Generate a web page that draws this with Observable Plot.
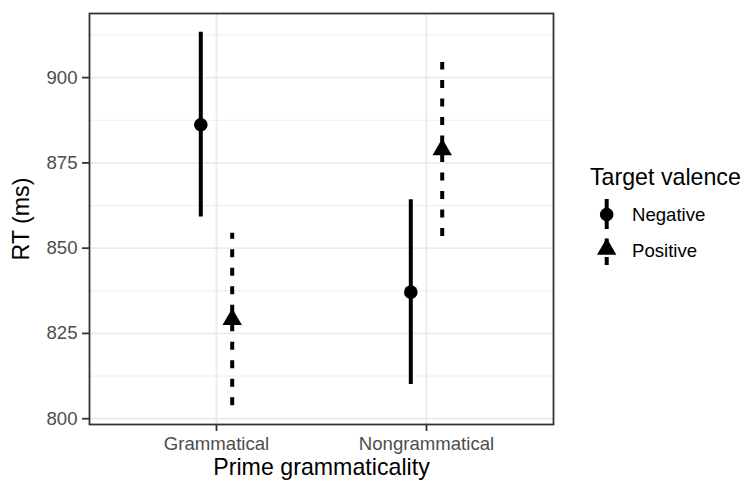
<!DOCTYPE html>
<html><head><meta charset="utf-8">
<script src="https://cdn.jsdelivr.net/npm/d3@7"></script>
<script src="https://cdn.jsdelivr.net/npm/@observablehq/plot@0.6"></script>
<style>
body{margin:0;background:#fff}
#wrap{position:relative;width:748px;height:482px;font-family:"Liberation Sans",Arial,Helvetica,sans-serif}
</style>
</head><body><div id="wrap"></div>
<script>
const categories = ["Grammatical", "Nongrammatical"];
const valences = ["Negative", "Positive"];
const meanNegative = [886.2, 837.1];
const ciNegative = [27.1, 27.1];
const meanPositive = [829.1, 878.9];
const ciPositive = [25.3, 25.5];
const yTicks = [800, 825, 850, 875, 900];
const yMinor = [812.5, 837.5, 862.5, 887.5, 912.5];
const xLabel = "Prime grammaticality";
const yLabel = "RT (ms)";
const legendTitle = "Target valence";

const rows = [];
categories.forEach((c, i) => {
  rows.push({prime: c, valence: valences[0], rt: meanNegative[i], lo: meanNegative[i] - ciNegative[i], hi: meanNegative[i] + ciNegative[i]});
  rows.push({prime: c, valence: valences[1], rt: meanPositive[i], lo: meanPositive[i] - ciPositive[i], hi: meanPositive[i] + ciPositive[i]});
});
const neg = rows.filter(d => d.valence === valences[0]);
const pos = rows.filter(d => d.valence === valences[1]);
const FONT = '"Liberation Sans", Arial, Helvetica, sans-serif';
const DASH = "8,10.5";

const plot = Plot.plot({
  width: 748, height: 482,
  marginLeft: 89, marginRight: 195, marginTop: 13, marginBottom: 58,
  style: {fontFamily: FONT, fontSize: "18.6px", background: "#fff", color: "#000", overflow: "visible"},
  x: {type: "point", domain: categories, padding: 0.6, label: null},
  y: {domain: [798.3, 918.8], label: null},
  marks: [
    Plot.gridY(yMinor, {stroke: "#ebebeb", strokeOpacity: 1, strokeWidth: 0.9}),
    Plot.gridY(yTicks, {stroke: "#ebebeb", strokeOpacity: 1, strokeWidth: 1.8}),
    Plot.gridX(categories, {stroke: "#ebebeb", strokeOpacity: 1, strokeWidth: 1.8}),
    Plot.ruleX(neg, {x: "prime", y1: "lo", y2: "hi", dx: -15.7, stroke: "#000", strokeWidth: 4}),
    Plot.ruleX(pos, {x: "prime", y1: "lo", y2: "hi", dx: 15.7, stroke: "#000", strokeWidth: 4, strokeDasharray: DASH}),
    Plot.dot(neg, {x: "prime", y: "rt", dx: -15.7, symbol: "circle", r: 6.8, fill: "#000", stroke: "none"}),
    Plot.dot(pos, {x: "prime", y: "rt", dx: 15.7, symbol: "triangle", r: 7.2, fill: "#000", stroke: "none"}),
    Plot.axisY(yTicks, {tickSize: 7, tickPadding: 5, color: "#4d4d4d", strokeWidth: 1.8, label: null}),
    Plot.axisX(categories, {tickSize: 7, tickPadding: 5, color: "#4d4d4d", strokeWidth: 1.8, label: null}),
    Plot.frame({stroke: "#333", strokeWidth: 1.8}),
    Plot.text([xLabel], {text: d => d, frameAnchor: "bottom", textAnchor: "middle", lineAnchor: "bottom", dy: 50, fontSize: 23.2, fill: "#000"}),
    Plot.text([yLabel], {text: d => d, frameAnchor: "left", textAnchor: "middle", rotate: -90, lineAnchor: "bottom", dx: -60.5, fontSize: 23.2, fill: "#000"})
  ]
});
d3.select(plot).selectAll('g[aria-label$="tick"] path').attr("stroke", "#333");
document.getElementById("wrap").appendChild(plot);

// Legend
const leg = d3.select("#wrap").append("svg")
  .attr("width", 748).attr("height", 482)
  .style("position", "absolute").style("left", "0px").style("top", "0px")
  .style("font-family", FONT);
leg.append("text").attr("x", 590).attr("y", 185).attr("font-size", 23.2).attr("fill", "#000").text(legendTitle);
const kx = 606.7;
// Negative key
leg.append("line").attr("x1", kx).attr("x2", kx).attr("y1", 229).attr("y2", 199).attr("stroke", "#000").attr("stroke-width", 4);
leg.append("path").attr("d", d3.symbol(d3.symbolCircle, Math.PI * 6.8 * 6.8)()).attr("transform", `translate(${kx},214.5)`).attr("fill", "#000");
leg.append("text").attr("x", 632).attr("y", 221).attr("font-size", 18.6).attr("fill", "#000").text(valences[0]);
// Positive key
leg.append("line").attr("x1", kx).attr("x2", kx).attr("y1", 265).attr("y2", 235).attr("stroke", "#000").attr("stroke-width", 4).attr("stroke-dasharray", DASH);
leg.append("path").attr("d", d3.symbol(d3.symbolTriangle, Math.PI * 7.2 * 7.2)()).attr("transform", `translate(${kx},249.2)`).attr("fill", "#000");
leg.append("text").attr("x", 632).attr("y", 256.7).attr("font-size", 18.6).attr("fill", "#000").text(valences[1]);
</script>
</body></html>
